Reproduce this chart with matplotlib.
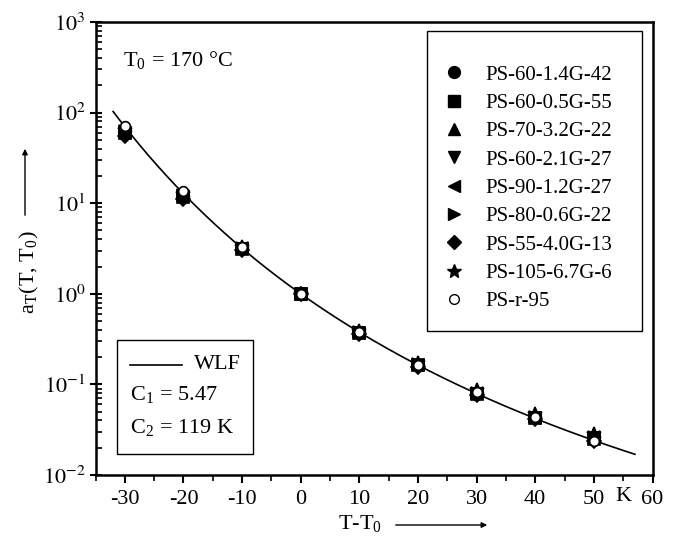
import numpy as np
import matplotlib
matplotlib.use("Agg")
import matplotlib.pyplot as plt
from matplotlib.patches import Rectangle, FancyArrowPatch
from matplotlib.lines import Line2D

plt.rcParams['font.family'] = ['Liberation Serif', 'DejaVu Serif']
plt.rcParams['mathtext.fontset'] = 'stix'

# ---- data ----
dT = [-30, -20, -10, 0, 10, 20, 30, 40, 50]
labels = ['PS-60-1.4G-42', 'PS-60-0.5G-55', 'PS-70-3.2G-22', 'PS-60-2.1G-27',
          'PS-90-1.2G-27', 'PS-80-0.6G-22', 'PS-55-4.0G-13', 'PS-105-6.7G-6', 'PS-r-95']
markers = ['o', 's', '^', 'v', '<', '>', 'D', '*', 'o']
s1 = [62, 12.0, 3.20, 1.0, 0.375, 0.165, 0.081, 0.044, 0.026]
s2 = [60, 11.6, 3.12, 1.0, 0.370, 0.162, 0.079, 0.043, 0.025]
s3 = [65, 12.5, 3.30, 1.0, 0.385, 0.170, 0.084, 0.046, 0.027]
s4 = [58, 11.4, 3.10, 1.0, 0.365, 0.158, 0.077, 0.041, 0.025]
s5 = [60, 12.0, 3.18, 1.0, 0.372, 0.164, 0.080, 0.043, 0.026]
s6 = [62, 12.2, 3.22, 1.0, 0.378, 0.166, 0.081, 0.044, 0.026]
s7 = [55, 11.2, 3.05, 1.0, 0.362, 0.157, 0.076, 0.041, 0.024]
s8 = [64, 12.6, 3.30, 1.0, 0.388, 0.172, 0.086, 0.047, 0.028]
s9 = [72, 13.5, 3.30, 1.0, 0.380, 0.163, 0.082, 0.044, 0.024]
series = [s1, s2, s3, s4, s5, s6, s7, s8, s9]

C1 = 5.47
C2 = 119.0
wlf_range = (-32, 57)

fig = plt.figure(figsize=(6.78, 5.49), dpi=100)
ax = fig.add_axes([0.1409, 0.1348, 0.8215, 0.8251])

x = np.linspace(wlf_range[0], wlf_range[1], 300)
ax.plot(x, 10 ** (-C1 * x / (C2 + x)), color='black', lw=1.2, zorder=2)

handles = []
for vals, m, lab in zip(series, markers, labels):
    open_ = lab == 'PS-r-95'
    ms = 7 if open_ else (10 if m == '*' else 8.5)
    if m == 'D':
        ms = 7.5
    fc = 'white' if open_ else 'black'
    ax.plot(dT, vals, linestyle='none', marker=m, ms=ms, mfc=fc, mec='black',
            mew=1.2, zorder=3)
    handles.append(Line2D([], [], linestyle='none', marker=m, ms=ms, mfc=fc,
                          mec='black', mew=1.0, label=lab))

ax.set_yscale('log')
ax.set_ylim(1e-2, 1e3)
ax.set_xlim(-35, 60)
ax.set_xticks([-30, -20, -10, 0, 10, 20, 30, 40, 50, 60])
ax.set_xticklabels(['-30', '-20', '-10', '0', '10', '20', '30', '40', '50', '60'])
ax.set_xticks(np.arange(-35, 60, 10), minor=True)
ax.set_yticks([1e-2, 1e-1, 1e0, 1e1, 1e2, 1e3])
ax.set_yticklabels(['$10^{-2}$', '$10^{-1}$', '$10^{0}$', '$10^{1}$', '$10^{2}$', '$10^{3}$'])
ax.yaxis.set_minor_locator(matplotlib.ticker.LogLocator(base=10, subs=np.arange(2, 10)))
ax.yaxis.set_minor_formatter(matplotlib.ticker.NullFormatter())

ax.tick_params(axis='x', which='major', direction='out', length=6, width=1.5,
               labelsize=16, pad=5)
ax.tick_params(axis='x', which='minor', direction='out', length=4, width=1.2)
ax.tick_params(axis='y', which='major', direction='inout', length=8, width=1.5,
               labelsize=16, pad=3)
ax.tick_params(axis='y', which='minor', direction='in', length=4, width=1.2)
for sp in ax.spines.values():
    sp.set_linewidth(1.8)

# unit "K" between 50 and 60
ax.text(55, -0.048, 'K', transform=ax.get_xaxis_transform(),
        fontsize=16, ha='center', va='center')

# legend (markers)
ax.add_patch(Rectangle((0.595, 0.318), 0.981 - 0.595, 0.980 - 0.318,
                       transform=ax.transAxes, fill=False, ec='black', lw=1.0, zorder=4))
leg = ax.legend(handles=handles, loc='upper left', bbox_to_anchor=(0.606, 0.928),
                frameon=False, fontsize=15, labelspacing=0.42, handlelength=1.0,
                handletextpad=1.0, borderpad=0)

# WLF box
ax.add_patch(Rectangle((0.0386, 0.046), 0.283 - 0.0386, 0.298 - 0.046,
                       transform=ax.transAxes, fill=False, ec='black', lw=1.0, zorder=4))
ax.add_line(Line2D([0.0624, 0.156], [0.243, 0.243], transform=ax.transAxes,
                   color='black', lw=1.2))
ax.text(0.176, 0.243, 'WLF', transform=ax.transAxes, fontsize=16, va='center', ha='left')
ax.text(0.0624, 0.177, r'C$_\mathregular{1}$ = 5.47', transform=ax.transAxes,
        fontsize=16, va='center', ha='left')
ax.text(0.0624, 0.105, r'C$_\mathregular{2}$ = 119 K', transform=ax.transAxes,
        fontsize=16, va='center', ha='left')

ax.text(0.049, 0.916, r'T$_\mathregular{0}$ = 170 °C', transform=ax.transAxes,
        fontsize=16, va='center', ha='left')

# axis labels with arrows
fig.text(29 / 678, 1 - 272 / 549, r'a$_\mathregular{T}$(T, T$_\mathregular{0}$)',
         rotation=90, fontsize=16, ha='center', va='center')
fig.add_artist(FancyArrowPatch(
    (25 / 678, 1 - 218 / 549), (25 / 678, 1 - 146 / 549), transform=fig.transFigure,
    arrowstyle='-|>', mutation_scale=8, color='black', lw=1.0))
fig.text(360 / 678, 1 - 524 / 549, r'T-T$_\mathregular{0}$', fontsize=16,
         ha='center', va='center')
fig.add_artist(FancyArrowPatch(
    (393 / 678, 1 - 525 / 549), (490 / 678, 1 - 525 / 549), transform=fig.transFigure,
    arrowstyle='-|>', mutation_scale=8, color='black', lw=1.0))

fig.savefig('out.png', dpi=100)
